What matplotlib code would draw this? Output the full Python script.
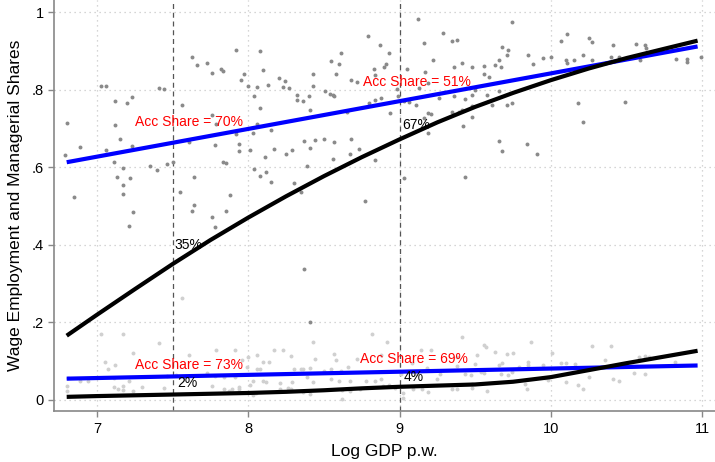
import matplotlib
matplotlib.use('Agg')
import matplotlib.pyplot as plt

plt.rcParams['font.family'] = ['Liberation Sans', 'DejaVu Sans']

# scatter: wage employment shares (upper cloud) and managerial shares (lower cloud)
wage_x = [7.63, 7.66, 7.73, 7.76, 7.82, 7.03, 7.06, 7.41, 7.44, 7.23, 7.20, 7.12, 7.56, 6.80, 7.12,
          7.76, 7.79, 7.15, 6.89, 7.06, 7.23, 7.61, 7.78, 6.79, 7.11, 7.17, 7.35, 7.40, 7.46, 7.50,
          7.83, 7.13, 7.22, 7.64, 7.17, 7.17, 6.85, 7.55, 7.24, 7.64, 7.63, 7.21, 7.76, 7.85, 7.78,
          7.88, 8.77, 8.37, 8.41, 7.92, 8.08, 8.79, 8.87, 7.83, 8.10, 7.97, 7.95, 8.20, 8.24, 8.43,
          8.55, 8.60, 8.61, 8.58, 8.83, 8.90, 8.91, 8.84, 8.00, 8.06, 8.13, 8.23, 8.27, 8.43, 8.68,
          8.72, 8.04, 8.32, 8.32, 8.36, 8.40, 8.51, 8.54, 8.56, 8.57, 8.08, 8.41, 8.65, 8.80, 8.84,
          8.88, 8.06, 8.03, 7.92, 8.15, 7.94, 7.94, 8.01, 8.17, 8.37, 8.44, 8.50, 8.57, 8.68, 8.41,
          8.29, 8.25, 8.67, 8.73, 8.11, 7.85, 8.56, 8.84, 8.04, 8.39, 8.12, 8.08, 8.15, 8.30, 8.35,
          9.12, 9.74, 9.29, 9.35, 9.38, 9.16, 8.93, 9.68, 9.72, 9.71, 9.85, 9.95, 10.00, 9.22, 9.05,
          9.17, 9.36, 9.41, 9.48, 9.56, 9.63, 9.67, 9.66, 9.88, 9.56, 9.59, 9.19, 8.98, 8.99, 9.13,
          9.36, 9.50, 9.48, 9.58, 9.66, 9.26, 9.43, 9.03, 9.06, 9.11, 9.48, 9.61, 9.71, 9.74, 8.94,
          9.35, 9.39, 9.41, 9.48, 9.16, 9.19, 9.21, 9.19, 9.42, 9.66, 9.68, 9.84, 9.91, 9.03, 9.43,
          10.11, 10.07, 10.25, 10.27, 10.41, 10.56, 10.62, 10.63, 10.10, 10.11, 10.15, 10.21, 10.27,
          10.40, 10.45, 10.59, 10.83, 10.90, 10.90, 10.99, 10.18, 10.49, 10.21]
wage_y = [0.885, 0.864, 0.868, 0.843, 0.854, 0.810, 0.810, 0.806, 0.801, 0.781, 0.765, 0.770, 0.760,
          0.715, 0.710, 0.735, 0.711, 0.672, 0.653, 0.645, 0.654, 0.664, 0.657, 0.631, 0.613, 0.599,
          0.602, 0.592, 0.608, 0.613, 0.614, 0.574, 0.572, 0.574, 0.553, 0.532, 0.524, 0.537, 0.485,
          0.502, 0.488, 0.448, 0.472, 0.486, 0.445, 0.528, 0.512, 0.336, 0.200, 0.904, 0.900, 0.938,
          0.916, 0.848, 0.850, 0.840, 0.826, 0.831, 0.824, 0.841, 0.874, 0.867, 0.896, 0.841, 0.854,
          0.859, 0.866, 0.838, 0.810, 0.808, 0.812, 0.808, 0.804, 0.810, 0.825, 0.819, 0.785, 0.786,
          0.775, 0.771, 0.783, 0.796, 0.790, 0.786, 0.785, 0.752, 0.748, 0.742, 0.765, 0.775, 0.779,
          0.712, 0.688, 0.687, 0.695, 0.660, 0.643, 0.644, 0.648, 0.667, 0.670, 0.674, 0.665, 0.674,
          0.649, 0.645, 0.633, 0.635, 0.646, 0.626, 0.612, 0.621, 0.620, 0.596, 0.603, 0.589, 0.578,
          0.563, 0.560, 0.535, 0.982, 0.976, 0.946, 0.926, 0.928, 0.922, 0.895, 0.911, 0.903, 0.889,
          0.890, 0.881, 0.884, 0.878, 0.854, 0.846, 0.860, 0.868, 0.858, 0.862, 0.865, 0.859, 0.876,
          0.866, 0.840, 0.833, 0.817, 0.801, 0.784, 0.804, 0.785, 0.799, 0.786, 0.786, 0.796, 0.780,
          0.777, 0.771, 0.769, 0.761, 0.759, 0.762, 0.761, 0.765, 0.740, 0.744, 0.742, 0.747, 0.730,
          0.726, 0.740, 0.737, 0.688, 0.707, 0.667, 0.642, 0.660, 0.635, 0.571, 0.574, 0.944, 0.927,
          0.933, 0.924, 0.917, 0.918, 0.917, 0.907, 0.877, 0.868, 0.877, 0.889, 0.877, 0.886, 0.884,
          0.877, 0.879, 0.879, 0.872, 0.886, 0.767, 0.769, 0.718]

mgr_x = [7.56, 7.03, 7.17, 7.41, 8.82, 8.43, 7.24, 7.05, 7.12, 7.79, 7.91, 8.00, 8.06, 7.61, 8.17,
         8.23, 8.28, 8.35, 8.44, 8.57, 8.58, 8.10, 8.14, 8.72, 7.96, 7.99, 8.08, 8.06, 8.30, 8.36,
         8.41, 8.50, 8.55, 8.61, 8.66, 6.81, 6.89, 6.94, 7.07, 7.11, 7.21, 7.46, 7.52, 7.73, 7.78,
         7.84, 7.91, 8.03, 8.10, 8.12, 8.21, 8.29, 8.39, 8.43, 8.55, 8.60, 8.67, 8.78, 8.84, 6.80,
         6.80, 7.11, 7.14, 7.17, 7.17, 7.24, 7.30, 7.44, 7.76, 7.84, 7.89, 7.94, 7.94, 7.87, 8.01,
         8.03, 8.05, 8.21, 8.26, 8.28, 8.36, 8.41, 8.62, 8.62, 8.67, 8.74, 8.89,
         9.41, 8.92, 9.87, 9.56, 9.57, 10.27, 10.40, 9.14, 9.21, 9.63, 9.71, 9.75, 10.01, 8.88,
         9.38, 9.51, 10.58, 10.62, 10.65, 10.82, 10.36, 9.85, 9.85, 10.07, 10.10, 9.95, 10.16, 9.08,
         9.18, 9.38, 9.50, 9.66, 9.68, 9.79, 9.01, 9.11, 9.27, 9.43, 9.47, 9.54, 9.56, 9.67, 9.72,
         9.74, 10.55, 10.62, 10.25, 10.41, 10.45, 10.10, 10.18, 10.21, 9.96, 9.98, 9.25, 8.88, 8.93,
         8.97, 9.09, 9.15, 9.35, 9.38, 9.48, 9.48, 9.58, 9.83, 9.84, 9.02, 9.02, 9.19]
mgr_y = [0.263, 0.170, 0.170, 0.147, 0.169, 0.148, 0.120, 0.096, 0.089, 0.127, 0.129, 0.111, 0.116,
         0.115, 0.127, 0.127, 0.112, 0.080, 0.106, 0.118, 0.103, 0.096, 0.097, 0.106, 0.102, 0.083,
         0.078, 0.079, 0.079, 0.080, 0.082, 0.075, 0.078, 0.075, 0.083, 0.056, 0.049, 0.047, 0.079,
         0.055, 0.048, 0.062, 0.063, 0.069, 0.061, 0.058, 0.058, 0.048, 0.048, 0.046, 0.043, 0.045,
         0.059, 0.046, 0.052, 0.047, 0.048, 0.047, 0.048, 0.034, 0.023, 0.033, 0.028, 0.034, 0.025,
         0.023, 0.032, 0.029, 0.034, 0.028, 0.027, 0.033, 0.026, 0.022, 0.037, 0.012, 0.016, 0.026,
         0.029, 0.026, 0.020, 0.014, 0.024, 0.002, 0.023, 0.028, 0.034,
         0.161, 0.149, 0.149, 0.141, 0.137, 0.138, 0.139, 0.129, 0.127, 0.122, 0.118, 0.120, 0.121,
         0.114, 0.110, 0.114, 0.111, 0.113, 0.110, 0.097, 0.103, 0.098, 0.090, 0.094, 0.094, 0.088,
         0.091, 0.094, 0.082, 0.086, 0.091, 0.090, 0.094, 0.083, 0.066, 0.066, 0.066, 0.065, 0.064,
         0.070, 0.068, 0.065, 0.064, 0.070, 0.069, 0.066, 0.057, 0.054, 0.048, 0.045, 0.037, 0.026,
         0.055, 0.050, 0.052, 0.053, 0.037, 0.031, 0.028, 0.026, 0.026, 0.028, 0.030, 0.041, 0.022,
         0.039, 0.028, 0.003, 0.016, 0.020]

# fitted lines
lin_x = [6.8, 10.97]
wage_lin = [0.613, 0.912]
mgr_lin = [0.054, 0.088]

curve_x = [6.8, 7.0, 7.25, 7.5, 7.75, 8.0, 8.25, 8.5, 8.75, 9.0, 9.25, 9.5, 9.75, 10.0, 10.25,
           10.5, 10.75, 10.97]
wage_curve = [0.165, 0.219, 0.285, 0.350, 0.412, 0.470, 0.525, 0.577, 0.626, 0.672, 0.716, 0.756,
              0.792, 0.825, 0.855, 0.882, 0.906, 0.927]
mgr_curve = [0.007, 0.009, 0.011, 0.013, 0.015, 0.017, 0.020, 0.024, 0.029, 0.033, 0.036, 0.039,
             0.046, 0.058, 0.076, 0.094, 0.111, 0.126]

cutoffs = [7.5, 9.0]
acc_labels = ['Acc Share = 70%', 'Acc Share = 51%', 'Acc Share = 73%', 'Acc Share = 69%']
acc_pos = [(7.25, 0.718), (8.76, 0.819), (7.25, 0.090), (8.74, 0.106)]
pct_labels = ['35%', '67%', '2%', '4%']
pct_pos = [(7.51, 0.400), (9.02, 0.710), (7.53, 0.044), (9.03, 0.059)]


def main()->None:
    fig = plt.figure(figsize=(7.15, 4.62), dpi=100)
    ax = fig.add_axes([0.0755, 0.11, 0.9245, 0.89])

    ax.scatter(wage_x, wage_y, s=8, color='#8a8a8a', linewidths=0, zorder=2)
    ax.scatter(mgr_x, mgr_y, s=8, color='#d0d0d0', linewidths=0, zorder=2)

    for c in cutoffs:
        ax.axvline(c, color='#555555', linestyle=(0, (4, 3)), linewidth=0.9, zorder=1)

    ax.plot(lin_x, wage_lin, color='#0000ff', linewidth=3, solid_capstyle='butt', zorder=3)
    ax.plot(lin_x, mgr_lin, color='#0000ff', linewidth=3, solid_capstyle='butt', zorder=3)
    ax.plot(curve_x, wage_curve, color='black', linewidth=3, solid_capstyle='butt', zorder=4)
    ax.plot(curve_x, mgr_curve, color='black', linewidth=3, solid_capstyle='butt', zorder=4)

    for lab, (x, y) in zip(acc_labels, acc_pos):
        ax.text(x, y, lab, color='#ff0000', fontsize=10, va='center', ha='left', zorder=5)
    for lab, (x, y) in zip(pct_labels, pct_pos):
        ax.text(x, y, lab, color='black', fontsize=10, va='center', ha='left', zorder=5)

    ax.set_xlim(6.716, 11.085)
    ax.set_ylim(-0.030, 1.032)
    ax.set_xticks([7, 8, 9, 10, 11])
    ax.set_yticks([0, 0.2, 0.4, 0.6, 0.8, 1.0])
    ax.set_yticklabels(['0', '.2', '.4', '.6', '.8', '1'])
    ax.tick_params(axis='both', labelsize=10.5, color='#888888', length=4, width=1)
    ax.grid(True, linestyle=(0, (1, 3)), color='#c8c8c8', linewidth=0.9, zorder=0)
    ax.set_axisbelow(True)

    for side in ['top', 'right']:
        ax.spines[side].set_visible(False)
    for side in ['left', 'bottom']:
        ax.spines[side].set_color('#888888')
        ax.spines[side].set_linewidth(1.2)

    ax.set_xlabel('Log GDP p.w.', fontsize=12.5, labelpad=6)
    ax.set_ylabel('Wage Employment and Managerial Shares', fontsize=12.5, labelpad=6)

    fig.savefig('out.png', dpi=100)


if __name__ == "__main__":
    main()
